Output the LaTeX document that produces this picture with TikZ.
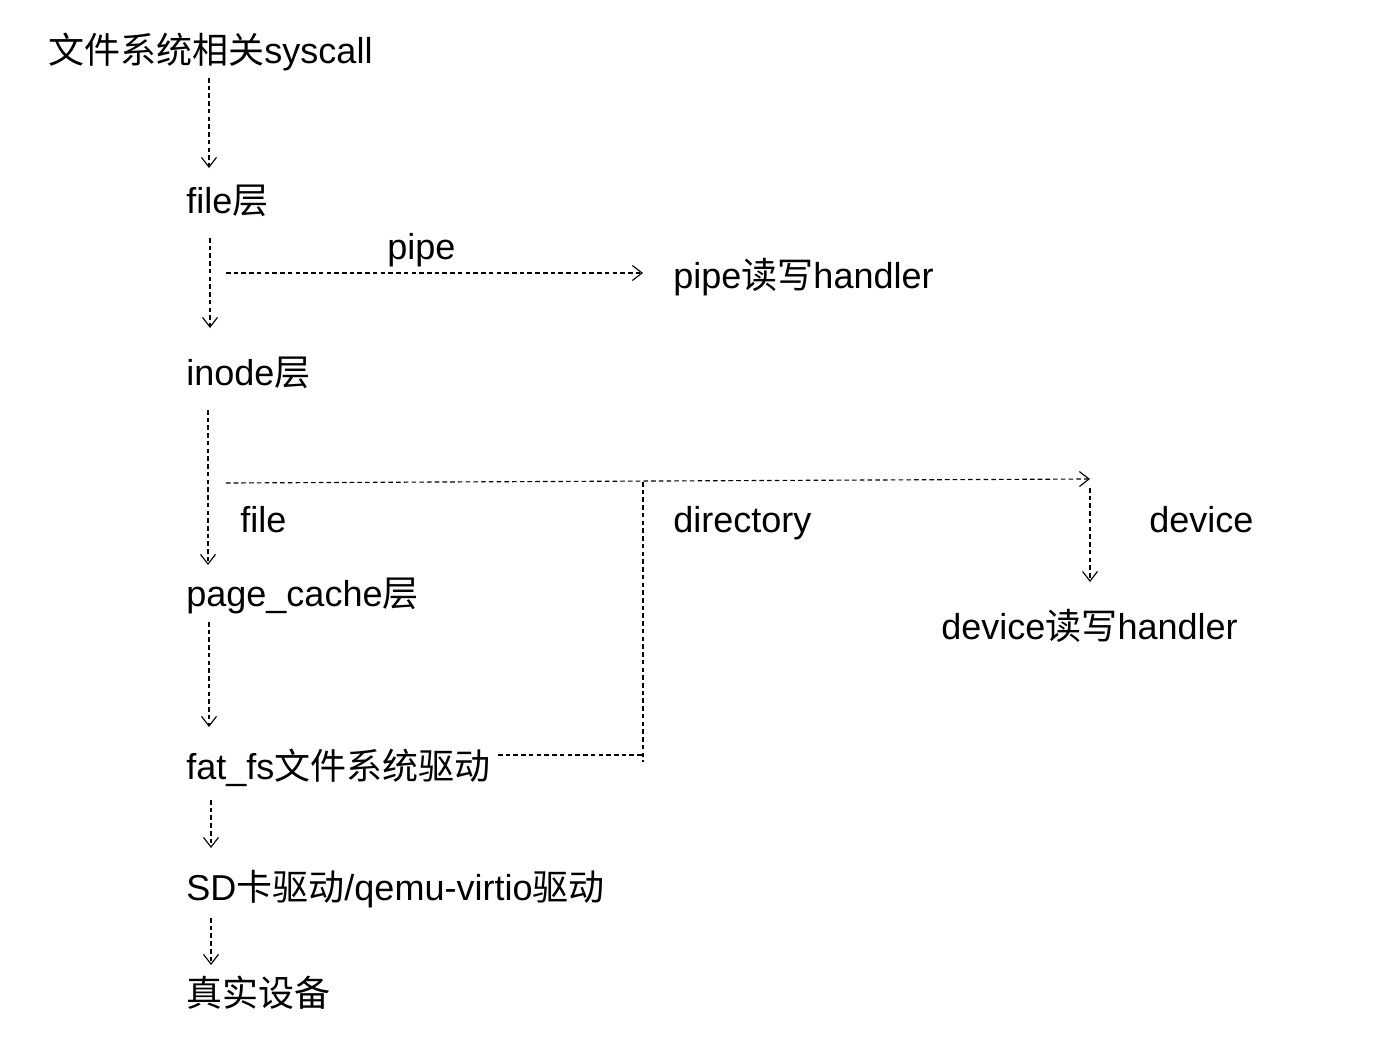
\documentclass[tikz,border=0pt]{standalone}
\usepackage{fontspec}
\setmainfont{Liberation Sans}
\newfontfamily\cjk{Noto Sans CJK SC}
\usetikzlibrary{arrows.meta}
\tikzset{
  lbl/.style={anchor=base west,inner sep=0pt,font=\fontsize{20.5pt}{24pt}\selectfont},
  dline/.style={draw=black,line width=0.65pt,dash pattern=on 2.6pt off 1.8pt},
  darrow/.style={dline,-{Straight Barb[length=5.5pt,width=8.5pt,line width=0.65pt]}}
}
\begin{document}
\begin{tikzpicture}[x=0.02cm,y=-0.02cm]
\useasboundingbox (0,0) rectangle (1373,1055);
% texts
\node[lbl] (sys)  at (48,63)   {{\cjk 文件系统相关}syscall};
\node[lbl] (file) at (186,213) {file{\cjk 层}};
\node[lbl] (pipelbl) at (387,259) {pipe};
\node[lbl] (pipeh) at (673,288) {pipe{\cjk 读写}handler};
\node[lbl] (inode) at (186,385) {inode{\cjk 层}};
\node[lbl] (filelbl) at (240,532) {file};
\node[lbl] (dirlbl) at (673,532) {directory};
\node[lbl] (devlbl) at (1149,532) {device};
\node[lbl] (pc) at (186,606) {page\_cache{\cjk 层}};
\node[lbl] (devh) at (941,639) {device{\cjk 读写}handler};
\node[lbl] (fat) at (186,779) {fat\_fs{\cjk 文件系统驱动}};
\node[lbl] (sd) at (186,900) {SD{\cjk 卡驱动}/qemu-virtio{\cjk 驱动}};
\node[lbl] (real) at (186,1006) {{\cjk 真实设备}};
% connector end points
\coordinate (a1s) at (209,78);  \coordinate (a1e) at (209,168);
\coordinate (a2s) at (210,238); \coordinate (a2e) at (210,328);
\coordinate (p1s) at (226,273); \coordinate (p1e) at (643,273);
\coordinate (a3s) at (208,410); \coordinate (a3e) at (208,565);
\coordinate (h1s) at (226,483); \coordinate (h1e) at (1090,479);
\coordinate (vtop) at (643,482); \coordinate (vbot) at (643,762);
\coordinate (fatr) at (498,755); \coordinate (vmid) at (643,755);
\coordinate (d1s) at (1090,488); \coordinate (d1e) at (1090,582);
\coordinate (a4s) at (209,622); \coordinate (a4e) at (209,727);
\coordinate (a5s) at (211,800); \coordinate (a5e) at (211,848);
\coordinate (a6s) at (211,918); \coordinate (a6e) at (211,965);
% connectors
\draw[darrow] (a1s) -- (a1e);
\draw[darrow] (a2s) -- (a2e);
\draw[darrow] (p1s) -- (p1e);
\draw[darrow] (a3s) -- (a3e);
\draw[darrow] (h1s) -- (h1e);
\draw[dline] (vtop) -- (vbot);
\draw[dline] (fatr) -- (vmid);
\draw[darrow] (d1s) -- (d1e);
\draw[darrow] (a4s) -- (a4e);
\draw[darrow] (a5s) -- (a5e);
\draw[darrow] (a6s) -- (a6e);
\end{tikzpicture}
\end{document}
